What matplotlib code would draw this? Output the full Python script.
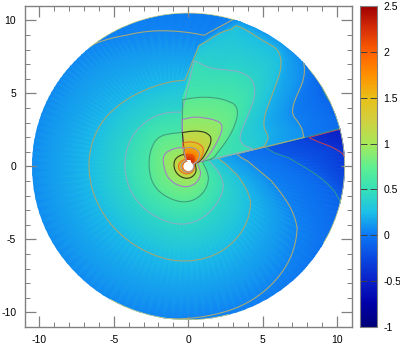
import numpy as np
import matplotlib
matplotlib.use("Agg")
import matplotlib.pyplot as plt
from matplotlib.colors import LinearSegmentedColormap
from matplotlib.patches import Circle
from matplotlib.cm import ScalarMappable
from matplotlib.colors import Normalize

plt.rcParams['font.family'] = ['Liberation Sans', 'DejaVu Sans']
plt.rcParams['axes.unicode_minus'] = False

# levels of the field, each row below gives the radius where the level is reached
levels = [-0.55, -0.35, -0.1, 0.04, 0.24, 0.44, 0.65, 0.85, 1.05, 1.3, 1.55, 1.9, 2.3]

# columns: above line, 20,30,40,50,60,70, mid, before spiral | after spiral,
# 115,135,155,180,210,240,270,300,330,350,365, below line
r_m055 = [35,35,35,35,35,35,35,35,35, 35,35,35,35,35,35,35,35,35,30,20,12,10.8]
r_m035 = [14,14,14,16,20,20,20,20,20, 20,20,20,20,20,20,20,20,20,14,11.5,10.6,8.0]
r_m010 = [11,10.8,10.2,11.5,13,13,13,13,13, 15,15,15,15,15,15,15,14,13,12.5,10.2,6.4,5.2]
r_007 = [8.0,8.1,7.67,10.55,10.8,10.8,10.7,10.6,10.6, 8.9,9.9,10.9,11,11.2,11.2,11,10.35,10.15,8.7,5.4,3.9,3.3]
r_025 = [5.2,5.8,5.67,7.0,10.1,9.9,10.2,10.1,8.03, 5.9,5.9,6.2,6.6,6.7,6.55,6.45,6.55,6.1,4.9,3.2,2.4,2.07]
r_040 = [4.6,4.0,3.85,5.0,7.2,7.45,7.0,6.85,7.3, 3.7,4.0,4.2,4.3,4.25,4.2,4.05,4.0,3.3,2.75,2.0,1.6,1.4]
r_060 = [1.6,1.8,2.5,3.9,5.3,5.2,5.0,4.75,4.55, 2.35,2.45,2.85,2.75,2.6,2.65,2.5,2.45,2.05,1.55,1.2,1.05,1.0]
r_080 = [.65,1.0,1.6,2.4,3.7,3.65,3.5,3.4,3.2, 1.3,1.4,1.6,1.85,1.6,1.55,1.45,1.4,1.2,.95,.75,.68,.65]
r_100 = [.5,.7,1.1,1.6,2.48,2.6,2.55,2.4,2.33, .85,.87,.95,1.0,.95,.9,.85,.82,.72,.6,.52,.5,.48]
r_125 = [.45,.55,.9,1.25,1.6,1.68,1.7,1.68,1.63, .5,.52,.56,.62,.67,.62,.55,.5,.46,.43,.42,.42,.42]
r_150 = [.4,.45,.7,.95,1.2,1.25,1.3,1.3,1.25, .4,.41,.43,.46,.48,.46,.42,.4,.38,.37,.36,.36,.36]
r_190 = [.36,.38,.45,.55,.7,.8,.85,.85,.8, .32,.32,.32,.32,.32,.32,.32,.32,.32,.32,.32,.32,.32]
r_230 = [.25,.25,.3,.35,.4,.45,.5,.5,.45, .2,.2,.2,.2,.2,.2,.2,.2,.2,.2,.2,.2,.2]
rows = [r_m055, r_m035, r_m010, r_007, r_025, r_040, r_060, r_080, r_100, r_125, r_150, r_190, r_230]

# fixed column angles, nan where the column follows one of the two fronts
col_angle = [np.nan,20,30,40,50,60,70,np.nan,np.nan,np.nan,115,135,155,180,210,240,270,300,330,350,365,np.nan]

# straight front (angle against radius) and spiral front
line_r = [.1,.5,1,2,3,5,8,11,40]
line_a = [40,24.7,19,16,15,14.5,14,14,14]
spiral_r = [.1,1,2.3,3.4,4.5,5.9,7.3,8.9,10.5,40]
spiral_a = [110,107,100,97,95,92,87,83,73,73]

level_colors = ['none','#b8405f','#2f8f9f','#a8a878','#a0a878','#88b0c8','#3fa080','#a080c8','#303820','#e8702a','#a09aa8','none','none']

bar_vals = [-1,-.75,-.5,-.25,0,.25,.5,.75,1,1.25,1.5,1.75,2,2.25,2.5]
bar_cols = ['#00007a','#0000a8','#0a20c8','#0a48e0','#0c78f5','#1cc0e8','#35e0b8','#60f090','#a8e858',
            '#d0d040','#e8c018','#ff9000','#ff6000','#d83008','#a00000']

# arcs of the rim with a pale edge, degrees
rim_from = [73,-30,240]
rim_to = [129,40,285]

GREY = '#808080'
R_OUT = 10.5
R_HOLE = 0.33
SUB = 10  # mesh steps between two columns, so that rows bend as arcs


def refine(R, T, first, last):
    # walk one front-to-front segment in polar coordinates, rounding the corners
    s = np.arange(first, last + 1)
    sf = np.linspace(first, last, (last - first)*SUB + 1)
    Rf = np.array([np.interp(sf, s, R[k, first:last+1]) for k in range(R.shape[0])])
    Tf = np.array([np.interp(sf, s, T[k, first:last+1]) for k in range(T.shape[0])])
    w = SUB
    kernel = np.ones(w + 1)/(w + 1)
    for k in range(Rf.shape[0]):
        pad = np.r_[np.full(w//2, Rf[k, 0]), Rf[k], np.full(w//2, Rf[k, -1])]
        Rf[k] = np.convolve(pad, kernel, mode='valid')
    return Rf, Tf


def build_mesh():
    R = np.array(rows, dtype=float)
    A = np.interp(R, line_r, line_a)
    B = np.interp(R, spiral_r, spiral_a)
    T = np.zeros_like(R)
    n = R.shape[1]
    for j in range(n):
        if not np.isnan(col_angle[j]):
            T[:, j] = col_angle[j]
    T[:, 0] = A[:, 0] + 0.3
    T[:, 7] = 0.5*(70 + B[:, 7])
    T[:, 8] = B[:, 8] - 0.2
    T[:, 9] = B[:, 9] + 0.2
    T[:, 21] = A[:, 21] + 359.7
    # near the centre the front angle is larger than the wedge columns
    for j in range(1, 7):
        T[:, j] = np.maximum(T[:, j], A[:, j] + 0.3 + 0.2*j)
    R1, T1 = refine(R, T, 0, 8)
    R2, T2 = refine(R, T, 9, 21)
    # close the ring
    Rm = np.column_stack([R1, R2, R1[:, 0]])
    Tm = np.column_stack([T1, T2, T1[:, 0] + 360])
    X = Rm*np.cos(np.radians(Tm))
    Y = Rm*np.sin(np.radians(Tm))
    Z = np.tile(np.array(levels)[:, None], (1, Rm.shape[1]))
    return X, Y, Z


def main():
    fig = plt.figure(figsize=(4, 3.46), dpi=100)
    ax = fig.add_axes([24.5/400, 19/346, 327.5/400, 321.3/346])
    cmap = LinearSegmentedColormap.from_list('bar', [((v+1)/3.5, c) for v, c in zip(bar_vals, bar_cols)])
    norm = Normalize(-1, 2.5)

    X, Y, Z = build_mesh()
    disc = Circle((0, 0), R_OUT, transform=ax.transData)
    mesh = ax.pcolormesh(X, Y, Z, shading='gouraud', cmap=cmap, norm=norm)
    mesh.set_clip_path(disc)

    for k, c in enumerate(level_colors):
        if c == 'none':
            continue
        ln, = ax.plot(X[k], Y[k], color=c, lw=0.8, solid_joinstyle='round')
        ln.set_clip_path(disc)

    for a0, a1 in zip(rim_from, rim_to):
        t = np.radians(np.linspace(a0, a1, 80))
        ax.plot(R_OUT*np.cos(t), R_OUT*np.sin(t), color='#d8d880', lw=0.5)
    ax.add_patch(Circle((0, 0), R_HOLE, fc='white', ec='none', zorder=5))

    ax.set_xlim(-11, 11)
    ax.set_ylim(-11, 11)
    ax.set_xticks([-10, -5, 0, 5, 10])
    ax.set_yticks([-10, -5, 0, 5, 10])
    ax.set_xticks(np.arange(-10, 11), minor=True)
    ax.set_yticks(np.arange(-10, 11), minor=True)
    ax.tick_params(which='major', direction='in', top=True, right=True, length=8, width=0.9, color=GREY,
                   labelsize=7.5, pad=6)
    ax.tick_params(which='minor', direction='in', top=True, right=True, length=3.5, width=0.7, color=GREY)
    for s in ax.spines.values():
        s.set_color(GREY)
        s.set_linewidth(1.0)

    cax = fig.add_axes([360/400, 19/346, 16.7/400, 321/346])
    cb = fig.colorbar(ScalarMappable(norm=norm, cmap=cmap), cax=cax)
    cb.set_ticks([-1, -.5, 0, .5, 1, 1.5, 2, 2.5])
    cb.set_ticklabels(['-1', '-0.5', '0', '0.5', '1', '1.5', '2', '2.5'])
    cax.tick_params(direction='in', left=True, right=True, length=5, width=0.7, color='#404040',
                    labelsize=7.5, pad=5)
    cb.outline.set_edgecolor(GREY)
    cb.outline.set_linewidth(0.8)

    fig.savefig('out.png', dpi=100)


if __name__ == "__main__":
    main()
